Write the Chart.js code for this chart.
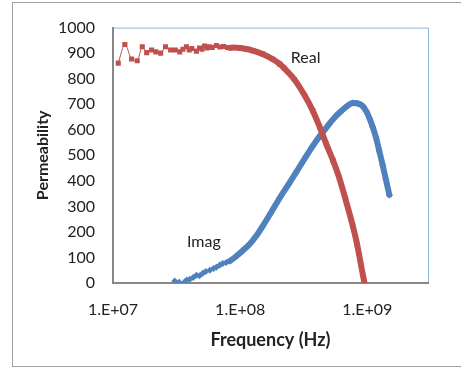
<!DOCTYPE html>
<html><head><meta charset="utf-8">
<script src="https://cdn.jsdelivr.net/npm/chart.js@4/dist/chart.umd.min.js"></script>
<style>html,body{margin:0;padding:0;background:#fff;}#wrap{width:461px;height:368px;position:relative;}</style>
</head><body><div id="wrap"><canvas id="c" width="461" height="368"></canvas></div>
<script>
// Real part (Hz, permeability)
const realFreq = [1.10e7,1.24e7,1.40e7,1.55e7,1.70e7,1.84e7,2.01e7,2.17e7,2.37e7,2.59e7,2.84e7,3.09e7,3.35e7,
  3.55e7,3.78e7,3.98e7,4.17e7,4.53e7,4.79e7,5.01e7,5.25e7,5.50e7,5.75e7,6.03e7,6.50e7,6.92e7,7.41e7,7.94e7,8.28e7,
  8.91e7,1.00e8,1.12e8,1.26e8,1.50e8,1.81e8,2.04e8,2.23e8,2.67e8,3.21e8,3.72e8,4.21e8,4.74e8,5.37e8,6.03e8,6.76e8,7.67e8,8.32e8,9.18e8,9.50e8];
const realPerm = [861,934,877,870,925,902,912,905,900,925,912,912,905,
  915,925,912,918,908,920,915,928,920,925,922,930,924,926,922,921,
  922,920,916,910,897,876,858,840,797,735,675,612,546,480,410,325,225,150,37,0];
// Imaginary part
const imagFreq = [3.06e7,3.31e7,3.67e7,3.80e7,4.02e7,4.27e7,4.53e7,4.79e7,5.08e7,5.37e7,5.77e7,6.17e7,6.50e7,6.92e7,7.29e7,7.76e7,8.28e7,
  9.33e7,1.05e8,1.19e8,1.34e8,1.50e8,1.74e8,2.04e8,2.40e8,2.76e8,3.30e8,3.72e8,4.21e8,4.60e8,5.04e8,5.62e8,6.40e8,7.08e8,7.67e8,
  8.32e8,9.18e8,9.82e8,1.04e9,1.10e9,1.17e9,1.24e9,1.32e9,1.40e9,1.49e9];
const imagPerm = [8,3,5,12,15,22,30,28,38,45,50,57,62,70,76,80,86,
  105,127,153,185,222,274,332,386,434,496,536,574,598,624,652,678,696,705,
  704,693,672,645,612,570,518,462,405,345];
const xTickValues = [1e7,1e8,1e9];
const yTickValues = [0,100,200,300,400,500,600,700,800,900,1000];
const seriesNames = ['Real','Imag'];
const labelFreq = [3.27e8, 5.18e7];
const labelPerm = [882, 160];

const FONT = 'Lato, "Open Sans", sans-serif';
const RED = '#C0504D', BLUE = '#4F81BD';

function pairs(xs, ys){ return xs.map((x,i)=>({x:x, y:ys[i]})); }

const decor = {
  id:'decor',
  beforeDraw(chart){
    const c = chart.ctx;
    c.save();
    c.fillStyle='#fff'; c.fillRect(0,0,chart.width,chart.height);
    c.strokeStyle='#A0A0A0'; c.lineWidth=1;
    c.strokeRect(12.5,2.5,460,364);
    const a = chart.chartArea;
    c.strokeStyle='#8DB4E2';
    c.beginPath();
    c.moveTo(a.left, a.top+0.5); c.lineTo(a.right+0.5, a.top+0.5); c.lineTo(a.right+0.5, a.bottom);
    c.stroke();
    c.restore();
  },
  afterDatasetsDraw(chart){
    const c = chart.ctx, sx = chart.scales.x, sy = chart.scales.y;
    c.save();
    c.font = '16px ' + FONT; c.fillStyle='#222'; c.textAlign='center'; c.textBaseline='middle';
    seriesNames.forEach((n,i)=>{ c.fillText(n, sx.getPixelForValue(labelFreq[i]), sy.getPixelForValue(labelPerm[i])); });
    c.restore();
  }
};

function seg(thickFrom){
  return { borderWidth: ctx => ctx.p0.parsed.x >= thickFrom ? 6 : 1 };
}

new Chart(document.getElementById('c'), {
  type:'line',
  data:{ datasets:[
    { label:seriesNames[0], data:pairs(realFreq, realPerm), borderColor:RED, backgroundColor:RED,
      pointStyle:'rect', pointRadius:3.6, pointBorderWidth:0, pointBackgroundColor:RED, borderWidth:1,
      borderCapStyle:'round', borderJoinStyle:'round',
      segment:seg(8.2e7), cubicInterpolationMode:'monotone' },
    { label:seriesNames[1], data:pairs(imagFreq, imagPerm), borderColor:BLUE, backgroundColor:BLUE,
      pointStyle:'rectRot', pointRadius:3.5, pointBorderWidth:0, pointBackgroundColor:BLUE, borderWidth:1,
      borderCapStyle:'round', borderJoinStyle:'round',
      segment:seg(8.2e7), cubicInterpolationMode:'monotone' }
  ]},
  options:{
    responsive:false, animation:false, devicePixelRatio:1,
    layout:{ padding:{ left:12, right:33, top:21, bottom:2 } },
    plugins:{ legend:{display:false}, tooltip:{enabled:false} },
    scales:{
      x:{ type:'logarithmic', min:1e7, max:3e9,
        afterBuildTicks: s => { s.ticks = xTickValues.map(v=>({value:v})); },
        afterFit: s => { s.height = 83; },
        grid:{ display:false, drawTicks:false },
        border:{ display:true, color:'#878787', width:2 },
        ticks:{ padding:17, color:'#222', font:{ family:FONT, size:16 }, maxRotation:0, autoSkip:false,
          callback: v => '1.E+' + String(Math.round(Math.log10(v))).padStart(2,'0') },
        title:{ display:true, text:'Frequency (Hz)', color:'#222', font:{ family:FONT, size:18, weight:'bold' }, padding:{top:0,bottom:15} }
      },
      y:{ min:0, max:1000,
        afterBuildTicks: s => { s.ticks = yTickValues.map(v=>({value:v})); },
        afterFit: s => { s.width = 101; },
        grid:{ display:false, drawTicks:false },
        border:{ display:true, color:'#878787', width:2 },
        ticks:{ padding:18, color:'#222', font:{ family:FONT, size:16 }, callback: v => String(v) },
        title:{ display:true, text:'Permeability', color:'#222', font:{ family:FONT, size:16, weight:'bold' }, padding:{top:21,bottom:0} }
      }
    }
  },
  plugins:[decor]
});
</script></body></html>
